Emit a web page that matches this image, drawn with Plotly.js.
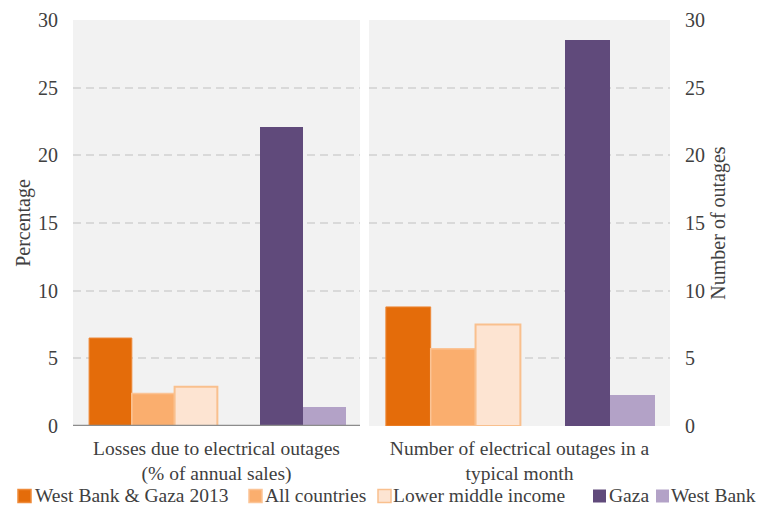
<!DOCTYPE html>
<html>
<head>
<meta charset="utf-8">
<script src="https://cdn.plot.ly/plotly-3.0.1.min.js"></script>
<style>html,body{margin:0;padding:0;background:#fff;}#chart{width:762px;height:508px;}</style>
</head>
<body>
<div id="chart"></div>
<script>
// ---- data ----
const seriesNames = ["West Bank & Gaza 2013", "All countries", "Lower middle income", "Gaza", "West Bank"];
const panelCategories = ["Losses due to electrical outages<br>(% of annual sales)", "Number of electrical outages in a<br>typical month"];
const lossesPct = [6.5, 2.4, 2.9, 22.1, 1.4];
const outagesPerMonth = [8.8, 5.7, 7.5, 28.5, 2.3];
const yTickVals = [0, 5, 10, 15, 20, 25, 30];
const yTickText = ["0", "5", "10", "15", "20", "25", "30"];

// ---- style ----
const fills = ["#E46C0A", "#FAAE6E", "#FDE4D2", "#604A7B", "#B3A2C7"];
const borders = ["#EE8A3A", "#FBC496", "#F9C08E", "#604A7B", "#B3A2C7"];
const borderW = [1, 1.5, 2, 0, 0];
const slots = [0, 1, 2, 4, 5];
const slotW = 0.149, start = -0.444;
const FONT = "Liberation Serif, Times New Roman, serif";
const TXT = "#404040";

const W = 762, H = 508;
const ml = 73, mr = W - 670, mt = 20, mb = H - 426;
const pw = W - ml - mr, ph = H - mt - mb;
const px2x = px => (px - ml) / pw;
const py2y = py => (H - mb - py) / ph;

// legend layout (pixel positions of swatches / labels)
const swatchX = [18, 249, 378, 593, 656];
const swatchSize = 13;
const legendTextX = [35, 265, 393, 609, 671];
const legendCY = 495;

const traces = [];
const panels = [
  {vals: lossesPct, xa: "x", ya: "y", cat: panelCategories[0]},
  {vals: outagesPerMonth, xa: "x2", ya: "y2", cat: panelCategories[1]}
];
panels.forEach(p => {
  seriesNames.forEach((name, i) => {
    traces.push({
      type: "bar",
      name: name,
      showlegend: false,
      x: [p.cat],
      y: [p.vals[i]],
      xaxis: p.xa, yaxis: p.ya,
      offset: start + slots[i] * slotW,
      width: slotW,
      marker: {color: fills[i], line: {color: borders[i], width: borderW[i]}},
      hoverinfo: "name+y"
    });
  });
});

const yCommon = {
  range: [0, 30], tickvals: yTickVals, ticktext: yTickText,
  showgrid: true, gridcolor: "#D9D9D9", griddash: "8px,5px", gridwidth: 2,
  zeroline: false, showline: false, ticks: "", automargin: false,
  ticklabelstandoff: 14,
  tickfont: {family: FONT, size: 20, color: TXT}
};
const xCommon = {
  type: "category", range: [-0.5, 0.5], showgrid: false, zeroline: false,
  showline: false, ticks: "", automargin: false, ticklabelstandoff: 8,
  tickfont: {family: FONT, size: 19.5, color: TXT}
};

const shapes = [
  {type: "rect", xref: "x domain", yref: "y domain", x0: 0, x1: 1, y0: 0, y1: 1,
    fillcolor: "#F2F2F2", line: {width: 0}, layer: "below"},
  {type: "rect", xref: "x2 domain", yref: "y2 domain", x0: 0, x1: 1, y0: 0, y1: 1,
    fillcolor: "#F2F2F2", line: {width: 0}, layer: "below"},
  {type: "line", xref: "x domain", yref: "y", x0: 0, x1: 1, y0: 0, y1: 0,
    line: {color: "#8C8C8C", width: 2.5}, layer: "above"}
];
const annotations = [];
seriesNames.forEach((name, i) => {
  shapes.push({
    type: "rect", xref: "paper", yref: "paper",
    x0: px2x(swatchX[i]), x1: px2x(swatchX[i] + swatchSize),
    y0: py2y(legendCY + 1 - swatchSize / 2), y1: py2y(legendCY + 1 + swatchSize / 2),
    fillcolor: fills[i], line: {color: borders[i], width: borderW[i] ? 1.5 : 0}
  });
  annotations.push({
    xref: "paper", yref: "paper", x: px2x(legendTextX[i] - 2), y: py2y(legendCY),
    xanchor: "left", yanchor: "middle", showarrow: false, text: name,
    font: {family: FONT, size: 19.5, color: TXT}
  });
});

const layout = {
  width: W, height: H,
  margin: {l: ml, r: mr, t: mt, b: mb, pad: 0, autoexpand: false},
  paper_bgcolor: "#FFFFFF",
  plot_bgcolor: "rgba(0,0,0,0)",
  font: {family: FONT, size: 20, color: TXT},
  bargap: 0,
  showlegend: false,
  xaxis: Object.assign({}, xCommon, {domain: [0, 287 / pw], anchor: "y"}),
  xaxis2: Object.assign({}, xCommon, {domain: [296 / pw, 1], anchor: "y2"}),
  yaxis: Object.assign({}, yCommon, {anchor: "x", side: "left",
    title: {text: "Percentage", font: {family: FONT, size: 20, color: TXT}, standoff: 2}}),
  yaxis2: Object.assign({}, yCommon, {anchor: "x2", side: "right",
    title: {text: "Number of outages", font: {family: FONT, size: 20, color: TXT}, standoff: 6}}),
  shapes: shapes,
  annotations: annotations
};

Plotly.newPlot("chart", traces, layout, {displayModeBar: false, staticPlot: true});
</script>
</body>
</html>
